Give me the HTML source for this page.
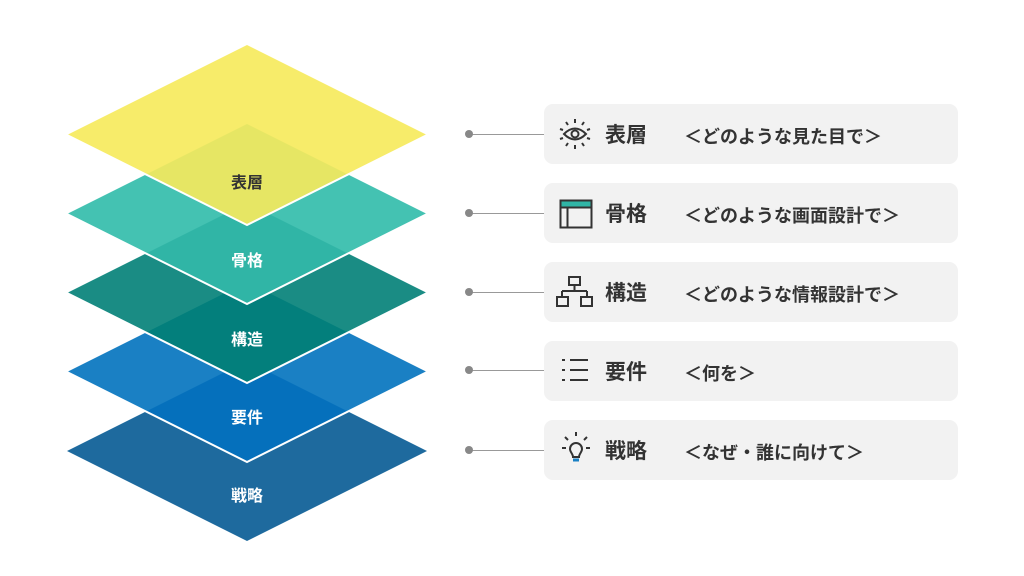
<!DOCTYPE html>
<html><head><meta charset="utf-8"><style>
body{margin:0;width:1024px;height:576px;background:#fff;overflow:hidden;font-family:"Liberation Sans","Noto Sans CJK JP",sans-serif;}
.box{position:absolute;left:544px;width:414px;height:60px;background:#f2f2f2;border-radius:9px;}
.t{position:absolute;left:61px;top:17px;font-size:21px;font-weight:bold;color:#333;line-height:30px}
.d{position:absolute;left:140px;top:19px;font-size:18px;font-weight:bold;color:#333;line-height:28px}
.ln{position:absolute;left:469px;width:75px;height:1px;background:#999;}
.dot{position:absolute;left:465px;width:8px;height:8px;border-radius:50%;background:#888;}
.ic{position:absolute;left:14px;top:14px;}
</style></head><body>
<svg width="1024" height="576" style="position:absolute;left:0;top:0">
<g font-family="Liberation Sans,Noto Sans CJK JP,sans-serif" font-size="16" font-weight="bold" text-anchor="middle">
<polygon points="247,361 427,451 247,541 67,451" fill="#1e6a9e"/>

<polygon points="247,282 427,372 247,462 67,372" fill="#1a80c4"/>
<polygon points="247,361 348,411.5 247,462 146,411.5" fill="#0570bc"/>
<polyline points="427,372 247,462 67,372" fill="none" stroke="#fff" stroke-width="2"/>

<polygon points="247,203 427,293 247,383 67,293" fill="#1a8c84"/>
<polygon points="247,282 348,332.5 247,383 146,332.5" fill="#037f7c"/>
<polyline points="427,293 247,383 67,293" fill="none" stroke="#fff" stroke-width="2"/>

<polygon points="247,124 427,214 247,304 67,214" fill="#44c2b2"/>
<polygon points="247,203 348,253.5 247,304 146,253.5" fill="#30b5a6"/>
<polyline points="427,214 247,304 67,214" fill="none" stroke="#fff" stroke-width="2"/>

<polygon points="247,45 427,135 247,225 67,135" fill="#f7ec6a"/>
<polygon points="247,124 348,174.5 247,225 146,174.5" fill="#e6e664"/>
<polyline points="427,135 247,225 67,135" fill="none" stroke="#fff" stroke-width="2"/>

<text x="247" y="188" fill="#333">表層</text>
<text x="247" y="266" fill="#fff">骨格</text>
<text x="247" y="345" fill="#fff">構造</text>
<text x="247" y="423" fill="#fff">要件</text>
<text x="247" y="501" fill="#fff">戦略</text>
</g></svg>

<div class="ln" style="top:134px"></div><div class="dot" style="top:130px"></div>
<div class="ln" style="top:213px"></div><div class="dot" style="top:209px"></div>
<div class="ln" style="top:292px"></div><div class="dot" style="top:288px"></div>
<div class="ln" style="top:370px"></div><div class="dot" style="top:366px"></div>
<div class="ln" style="top:450px"></div><div class="dot" style="top:446px"></div>

<div class="box" style="top:104px">
<svg class="ic" width="34" height="34" viewBox="0 0 34 34" style="left:14px;top:13px" stroke="#333" stroke-width="2" fill="none">
<path d="M6 17 Q17 6 28 17 Q17 28 6 17Z"/><circle cx="17" cy="17" r="3.5"/>
<path d="M17 2v4M17 28v4M8 5l2 3M26 5l-2 3M8 29l2-3M26 29l-2-3M2 12l3 1M32 12l-3 1M2 22l3-1M32 22l-3-1"/></svg>
<div class="t">表層</div><div class="d">＜どのような見た目で＞</div></div>

<div class="box" style="top:183px">
<svg class="ic" width="34" height="30" style="left:15px;top:16px"><rect x="1.5" y="1.5" width="31" height="27" fill="none" stroke="#333" stroke-width="2"/><rect x="2.5" y="2.5" width="29" height="5" fill="#30b5a6"/><path d="M2 8.5h30M8.5 8.5v20" stroke="#333" stroke-width="2"/></svg>
<div class="t">骨格</div><div class="d">＜どのような画面設計で＞</div></div>

<div class="box" style="top:262px">
<svg class="ic" width="38" height="34" style="left:12px;top:13px" stroke="#333" stroke-width="2" fill="none"><rect x="13" y="2" width="11" height="8"/><path d="M18.5 10v6M6 16h25M6 16v6M31 16v6"/><rect x="1" y="22" width="11" height="9"/><rect x="25" y="22" width="11" height="9"/></svg>
<div class="t">構造</div><div class="d">＜どのような情報設計で＞</div></div>

<div class="box" style="top:341px">
<svg class="ic" width="30" height="30" style="left:18px;top:16px" stroke="#333" stroke-width="2"><path d="M0 3h3M8 3h18M0 13h3M8 13h18M0 23h3M8 23h18"/></svg>
<div class="t">要件</div><div class="d">＜何を＞</div></div>

<div class="box" style="top:420px">
<svg class="ic" width="34" height="36" style="left:16px;top:11px" stroke="#333" stroke-width="2" fill="none"><path d="M16 1v4M5 6l3 3M27 6l-3 3M2 17h4M26 17h4"/><path d="M10 18a6 6 0 1 1 12 0c0 3-3 5-3 8h-6c0-3-3-5-3-8z"/><path d="M13 29h6" stroke="#1a80c4" stroke-width="3"/></svg>
<div class="t">戦略</div><div class="d">＜なぜ・誰に向けて＞</div></div>
</body></html>
